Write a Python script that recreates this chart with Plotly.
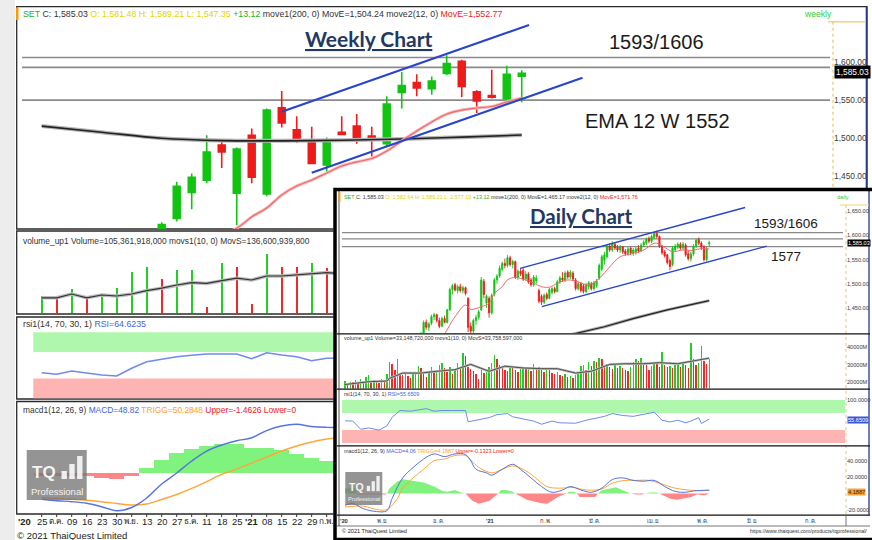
import plotly.graph_objects as go

W, H = 872, 540
def px(x): return x / W
def py(y): return 1 - y / H

SANS = "Liberation Sans, Arial, sans-serif"

# ======================= WEEKLY DATA =======================
wk_candle_idx = list(range(8, 33))
wk_open  = [1370,1395,1429,1445,1491,1428,1504,1427,1540,1511,1496,1465,1508,1516,1503,1493,1560,1573,1565,1585,1601,1561,1556,1552,1581.48]
wk_high  = [1390,1443,1454,1504,1496,1488,1513,1539,1562,1529,1515,1501,1529,1532,1515,1555,1587,1584,1581,1609,1603,1563,1590,1595,1589.21]
wk_low   = [1360,1391,1407,1441,1461,1386,1441,1424,1514,1494,1466,1456,1504,1493,1476,1490,1539,1555,1557,1583,1554,1533,1552,1548,1547.35]
wk_close = [1387,1437,1449,1482,1482,1486,1449,1537,1520,1499,1467,1497,1505,1501,1499,1545,1569,1566,1575,1598,1568,1549,1554,1584,1585.03]

wk_ema200_x = [0, 4, 8, 12, 18, 24, 28, 32]
wk_ema200_y = [1516, 1508, 1500, 1497, 1497, 1499, 1501.5, 1504.24]
wk_ema12_x = [9, 11, 13, 14, 15, 16, 17, 18, 19, 20, 21, 22, 23, 24, 25, 26, 27, 28, 29, 30, 31, 32]
wk_ema12_y = [1342, 1366, 1382, 1397, 1408.6, 1425.7, 1437.5, 1445.3, 1454.5, 1463.7, 1469, 1473.5,
              1483.4, 1496.5, 1509.6, 1521.4, 1531.8, 1537, 1539.7, 1541.7, 1547.6, 1552.77]
wk_levels = [1606, 1593, 1550]
wk_chan_upper_x = [16, 32.49]
wk_chan_upper_y = [1534.9, 1648.5]
wk_chan_lower_x = [18, 36.05]
wk_chan_lower_y = [1454.9, 1579.4]

wk_lower_idx = list(range(0, 21))
wk_volume = [42, 37, 59, 38, 47, 62, 102, 116, 84, 107, 108, 14, 124, 116, 22, 147, 116, 114, 124, 112, 120]
wk_vol_ma = [38, 38, 47.5, 38, 45, 42.5, 47.5, 56, 62, 70, 76, 74, 81, 87, 82.5, 92.5, 92.5, 95, 99, 101, 98]
wk_rsi = [38.8, 36.4, 41.4, 37.9, 35.3, 33.8, 45.5, 55.5, 59.1, 63, 65.2, 67.1, 67.1, 67.1, 60, 69.1, 65.6, 63, 57, 60.6, 61]
wk_macd = [-33.2, -35, -36.2, -38.2, -42.5, -47.5, -43.5, -31.6, -14.1, -0.4, 14.6, 27.1, 34.6, 40, 43.7, 52.7, 58.4, 60.5, 57.7, 56.7, 56.5]
wk_signal = [-31.2, -32.2, -33.2, -34.5, -36.2, -38.5, -40.4, -39.1, -33.5, -27.2, -19.7, -11, -2.2, 4.6, 12.1, 19.6, 27.1, 33.4, 38.4, 42.1, 45]
wk_hist = [-4.1, -4.1, -4.1, -4.1, -7.1, -8.4, -4.1, 5.4, 15.9, 24.1, 29.1, 33.4, 35.4, 35.4, 30.4, 30.4, 28.4, 23.4, 17.9, 14.6, 11.5]

wk_tick_pos = [-1.15] + list(range(0, 20))
wk_tick_text = ["<b>'20</b>", "25", "ต.ค.", "09", "16", "23", "30", "พ.ย.", "13", "20", "27", "ธ.ค.",
                "11", "18", "25", "<b>'21</b>", "08", "15", "22", "29", "ก.พ."]
wk_price_ticks = [1450, 1500, 1550, 1600]

# ======================= DAILY DATA =======================
dy_candle_idx = list(range(28, 140))
dy_open = [1380,1388,1395,1420,1410,1418,1432,1436,1424,1412,
           1428,1420,1446,1488,1498,1486,1494,1486,1492,1470,
           1412,1402,1424,1430,1446,1505,1460,1470,1440,1478,
           1508,1516,1530,1542,1538,1554,1540,1546,1514,1526,
           1528,1510,1520,1508,1498,1506,1486,1474,1462,1478,
           1470,1482,1490,1484,1504,1512,1508,1524,1514,1522,
           1508,1490,1500,1496,1484,1494,1500,1490,1496,1512,
           1530,1548,1556,1578,1570,1582,1576,1570,1576,1568,
           1562,1574,1564,1566,1574,1568,1580,1584,1594,1588,
           1596,1604,1598,1578,1566,1560,1548,1540,1570,1576,
           1582,1574,1580,1562,1552,1562,1578,1592,1584,1576,
           1550,1582.64]
dy_high = [1392,1400,1424,1426,1420,1436,1440,1438,1430,1432,
           1434,1448,1492,1500,1502,1498,1500,1496,1494,1472,
           1420,1428,1436,1446,1514,1510,1478,1474,1480,1512,
           1520,1538,1546,1552,1560,1558,1550,1548,1530,1532,
           1534,1526,1524,1512,1518,1518,1490,1478,1480,1482,
           1492,1494,1494,1508,1516,1524,1526,1528,1528,1526,
           1512,1504,1504,1500,1502,1506,1504,1506,1510,1542,
           1560,1566,1582,1584,1588,1586,1580,1580,1578,1572,
           1576,1576,1574,1576,1580,1584,1590,1596,1598,1602,
           1608,1610,1600,1580,1570,1562,1552,1578,1582,1586,
           1586,1586,1584,1568,1566,1582,1594,1596,1588,1580,
           1576,1589.21]
dy_low = [1375,1384,1392,1405,1402,1414,1425,1420,1408,1410,
          1418,1418,1444,1478,1484,1480,1482,1480,1476,1400,
          1396,1398,1415,1426,1444,1470,1450,1430,1436,1474,
          1500,1512,1526,1532,1534,1536,1532,1510,1508,1516,
          1506,1506,1500,1494,1494,1500,1460,1456,1458,1466,
          1468,1478,1480,1482,1500,1504,1504,1510,1510,1506,
          1486,1486,1482,1480,1480,1488,1486,1486,1492,1508,
          1526,1540,1552,1566,1566,1570,1566,1564,1562,1558,
          1558,1560,1558,1560,1564,1566,1576,1580,1584,1584,
          1592,1594,1574,1560,1554,1540,1528,1536,1566,1572,
          1570,1570,1556,1548,1546,1558,1574,1580,1570,1546,
          1546,1577.19]
dy_close = [1388,1396,1420,1410,1417,1432,1436,1424,1412,1428,
            1420,1446,1488,1496,1487,1494,1486,1492,1480,1410,
            1402,1424,1430,1442,1508,1478,1474,1440,1476,1508,
            1516,1532,1542,1538,1554,1540,1546,1514,1526,1520,
            1510,1520,1504,1498,1514,1512,1464,1462,1476,1470,
            1488,1490,1484,1504,1512,1508,1522,1514,1524,1510,
            1490,1500,1486,1484,1498,1502,1490,1502,1506,1538,
            1556,1560,1578,1570,1584,1574,1570,1576,1566,1562,
            1572,1564,1570,1572,1568,1580,1586,1592,1588,1598,
            1604,1598,1578,1564,1558,1544,1536,1574,1578,1582,
            1574,1582,1560,1552,1562,1578,1590,1584,1576,1550,
            1571.91,1585.03]

dy_ma200_x = [84, 99, 110, 123, 139]
dy_ma200_y = [1392, 1411, 1428, 1446, 1465.17]
dy_ema12_x = [36, 38, 42, 46, 48, 52, 55, 57, 60, 62, 65, 67, 71, 75, 78, 81, 85, 89, 93, 97, 101, 105,
              110, 114, 118, 120, 123, 125, 129, 132, 137, 139]
dy_ema12_y = [1380, 1396, 1432, 1456, 1447, 1452.6, 1459.6, 1480, 1494, 1508, 1513.5, 1511, 1504, 1494,
              1493, 1501, 1508, 1504, 1497.5, 1511, 1535, 1556, 1563, 1570, 1584, 1582, 1572, 1566.5,
              1570, 1569, 1573.5, 1571.76]
dy_levels = [1606, 1593, 1577]
dy_chan_upper_x = [66.8, 152.7]
dy_chan_upper_y = [1532, 1658]
dy_chan_lower_x = [75.1, 161]
dy_chan_lower_y = [1452.6, 1578]

dy_vol_idx = list(range(0, 140))
dy_volume = [21000, 19500, 20500, 20000, 21500, 20500, 22000, 21000, 23000, 24300, 19800, 21500, 20500, 19600, 22000, 21500, 25000,
             31800, 30200, 27000, 33100, 25000, 24000, 26000, 23500, 22500, 24500,
             25500, 29200, 28000, 24500, 23000, 25500, 28500, 26000, 27000, 30000,
             31200, 28000, 26000, 29000, 24500, 27500, 31000, 28000, 36500, 35000,
             29000, 27500, 26500, 24500, 22000, 27000, 25500, 26000, 28500, 31000,
             35700, 33100, 30000, 28500, 27000, 26500, 29000, 28000, 27000, 26000,
             28500, 29000, 27500, 28500, 26500, 30200, 27500, 28500, 27000, 26000,
             28000, 27500, 25500, 24500, 26000, 24000, 23500, 24500, 23000, 23500,
             22500, 24000, 25000, 29500, 30000, 27000, 31500, 29500, 32000, 31500,
             34000, 33000, 28500, 30500, 29000, 27500, 30000, 28000, 29500, 28000,
             27000, 26500, 28500, 31500, 33500, 32000, 34000, 31000, 30000, 27000,
             29500, 31000, 30500, 29000, 37000, 30000, 28500, 29500, 28000, 30000,
             31000, 29000, 30500, 30000, 28000, 42500, 33000, 30000, 31000, 40500,
             32000, 30500, 33149]
dy_vol_ma_x = [0, 9, 16, 17, 22, 29, 35, 42, 48, 55, 61, 68, 75, 81, 88, 94, 101, 107, 114, 120, 127, 133, 139]
dy_vol_ma_y = [18800, 20400, 20800, 22350, 25300, 25300, 26300, 27250, 30200, 26300, 29200, 28200, 27800,
               27800, 25300, 26300, 30200, 30600, 30600, 31200, 30600, 32200, 33759]

dy_rsi_x = [0, 3, 6, 9, 13, 16, 18, 21, 25, 29, 31, 34, 37, 41, 46, 47, 51, 55, 58, 62, 64, 68, 72, 75, 79,
            82, 88, 92, 96, 99, 102, 106, 110, 114, 118, 121, 124, 127, 130, 132, 135, 136, 139]
dy_rsi_y = [51.6, 51, 31.9, 35, 30, 40, 59.8, 75.6, 74, 78, 80, 74, 75.6, 75.6, 75.6, 49.3, 55, 59, 66, 68.5,
            61, 56, 51, 43.7, 51, 47, 46, 53, 59, 62, 68.5, 64, 62, 66, 71.6, 53, 49, 53, 47, 51, 59, 45.6, 55.65]

dy_macd_x = [0, 3, 7, 12, 16, 18, 22, 26, 30, 34, 38, 42, 46, 48, 50, 54, 56, 60, 64, 67, 71, 75, 79, 83, 86,
             90, 94, 98, 102, 106, 110, 114, 118, 122, 126, 130, 133, 139]
dy_macd_y = [-14.4, -12.2, -18.5, -22, -21, -6, 19, 31.7, 42, 48.3, 45, 48.3, 47.5, 39.9, 29.5, 25.2, 22.3,
             29.5, 35.7, 29.5, 19, 8.5, 1.5, 4.3, 8.5, 4.3, 1.5, 6.5, 17, 19, 16, 15, 16, 8.5, 2.6, 1.5, 3.2, 4.06]
dy_sig_x = [0, 7, 12, 16, 20, 22, 26, 30, 34, 38, 42, 46, 48, 51, 56, 60, 64, 68, 72, 77, 82, 87, 92, 98,
            102, 107, 111, 116, 120, 126, 131, 135, 139]
dy_sig_y = [-16.5, -15.4, -19.5, -19.5, -6, 6.5, 19, 29.5, 40, 42, 46.3, 46.3, 41, 32, 25.2, 29.5, 33.6, 29.5,
            21, 8.5, 6.5, 7.4, 4.3, 5.5, 12.6, 16, 16, 16, 12.6, 6.5, 4.3, 3.2, 4.19]
dy_hist_x = [0, 4, 4.5, 5, 15.5, 16, 17, 20, 22, 27.5, 30, 34, 37, 39, 42, 44.5, 46, 48.5, 51, 55, 57.6, 58.5,
             59.5, 61.5, 64, 65, 69.4, 74.6, 77.2, 81.2, 84.5, 85.5, 87.5, 88.5, 89.6, 95.5, 96.5, 98, 100.8,
             103.4, 107.3, 109, 111, 113.5, 114.5, 116.5, 119, 120, 124.2, 126.9, 132.1, 134.5, 136, 137.5, 139]
dy_hist_y = [6.3, 6.3, 0, -1.3, -1.3, 0, 6.3, 14.6, 17.5, 14.6, 13.4, 8.4, 3.3, 2.1, 4.2, 0.8, 0, -8.4, -12.5,
             -9.2, -2.1, 0, 4.2, 4.2, 2, 0, -7.5, -11.7, -12.5, -4.2, 0, 2.1, 2.1, 0, -4.2, -4.2, 0, 4, 6.3,
             7.5, 2.1, 0, -1.3, -1.3, 0, 1.3, 1.3, 0, -6.3, -7.5, -4.2, -1, -2.1, -2.1, -0.13]

dy_tick_pos = [-0.5, 14.5, 36, 55.6, 76.6, 95.5, 117.7, 136.7, 155.6, 177.9]
dy_tick_text = ["<b>'20</b>", "พ.ย.", "ธ.ค.", "<b>'21</b>", "ก.พ.", "มี.ค.", "เม.ย.", "พ.ค.", "มิ.ย.", "ก.ค."]
dy_price_ticks = [1450, 1500, 1550, 1600, 1650]
dy_vol_ticks = [20000, 30000, 40000]
dy_vol_ticktext = ["20000M", "30000M", "40000M"]

# ======================= STYLES =======================
GREEN = "#12C312"
RED = "#EE1B1B"
VGREEN = "#25CC25"
VRED = "#F02828"
HGREEN = "#80F27E"
HRED = "#FF8686"
MBLUE = "#5573E2"
MORANGE = "#FFA63A"
RSIBLUE = "#6D8CEB"
EMARED = "#F26868"
CHAN = "#2845CC"
LEVEL = "#8A8A8A"

fig = go.Figure()

def vol_colors(v):
    return [VGREEN if (i == 0 or v[i] >= v[i - 1]) else VRED for i in range(len(v))]

def line_tr(x, y, color, width, xa, ya, shape="linear"):
    fig.add_trace(go.Scatter(x=x, y=y, mode="lines", line=dict(color=color, width=width, shape=shape),
                             xaxis=xa, yaxis=ya, hoverinfo="skip"))

# ----- weekly price -----
line_tr(wk_ema200_x, wk_ema200_y, "#B5B5B5", 4, "x", "y", "spline")
line_tr(wk_ema200_x, wk_ema200_y, "#222222", 1.6, "x", "y", "spline")
line_tr(wk_ema12_x, wk_ema12_y, "#F9B8B8", 3, "x", "y", "spline")
line_tr(wk_ema12_x, wk_ema12_y, EMARED, 1.2, "x", "y", "spline")
fig.add_trace(go.Candlestick(x=wk_candle_idx, open=wk_open, high=wk_high, low=wk_low, close=wk_close,
                             increasing=dict(line=dict(color=GREEN, width=1.6), fillcolor=GREEN),
                             decreasing=dict(line=dict(color=RED, width=1.6), fillcolor=RED),
                             whiskerwidth=0, xaxis="x", yaxis="y", hoverinfo="skip"))
line_tr(wk_chan_upper_x, wk_chan_upper_y, CHAN, 2.2, "x", "y")
line_tr(wk_chan_lower_x, wk_chan_lower_y, CHAN, 2.2, "x", "y")

# ----- weekly volume -----
fig.add_trace(go.Bar(x=wk_lower_idx, y=wk_volume, width=0.14, marker=dict(color=vol_colors(wk_volume), line=dict(width=0)),
                     xaxis="x2", yaxis="y2", hoverinfo="skip"))
line_tr(wk_lower_idx, wk_vol_ma, "#BBBBBB", 3.5, "x2", "y2")
line_tr(wk_lower_idx, wk_vol_ma, "#333333", 1.2, "x2", "y2")
# ----- weekly rsi -----
line_tr(wk_lower_idx, wk_rsi, RSIBLUE, 1.6, "x3", "y3")
# ----- weekly macd -----
fig.add_trace(go.Bar(x=wk_lower_idx, y=wk_hist, width=1.0,
                     marker=dict(color=[HGREEN if v >= 0 else HRED for v in wk_hist], line=dict(width=0)),
                     xaxis="x4", yaxis="y4", hoverinfo="skip"))
line_tr(wk_lower_idx, wk_signal, MORANGE, 1.4, "x4", "y4", "spline")
line_tr(wk_lower_idx, wk_macd, MBLUE, 1.4, "x4", "y4", "spline")

# ----- daily price -----
line_tr(dy_ma200_x, dy_ma200_y, "#AAAAAA", 3, "x5", "y5")
line_tr(dy_ma200_x, dy_ma200_y, "#222222", 1.2, "x5", "y5")
line_tr(dy_ema12_x, dy_ema12_y, EMARED, 1, "x5", "y5", "spline")
fig.add_trace(go.Candlestick(x=dy_candle_idx, open=dy_open, high=dy_high, low=dy_low, close=dy_close,
                             increasing=dict(line=dict(color=GREEN, width=0.9), fillcolor=GREEN),
                             decreasing=dict(line=dict(color=RED, width=0.9), fillcolor=RED),
                             whiskerwidth=0, xaxis="x5", yaxis="y5", hoverinfo="skip"))
line_tr(dy_chan_upper_x, dy_chan_upper_y, CHAN, 1.4, "x5", "y5")
line_tr(dy_chan_lower_x, dy_chan_lower_y, CHAN, 1.4, "x5", "y5")
# ----- daily volume -----
fig.add_trace(go.Bar(x=dy_vol_idx, y=dy_volume, width=0.55, marker=dict(color=vol_colors(dy_volume), line=dict(width=0)),
                     xaxis="x6", yaxis="y6", hoverinfo="skip"))
line_tr(dy_vol_ma_x, dy_vol_ma_y, "#BBBBBB", 2.5, "x6", "y6")
line_tr(dy_vol_ma_x, dy_vol_ma_y, "#444444", 0.9, "x6", "y6")
# ----- daily rsi -----
line_tr(dy_rsi_x, dy_rsi_y, RSIBLUE, 1, "x7", "y7")
# ----- daily macd -----
fig.add_trace(go.Scatter(x=dy_hist_x, y=[max(v, 0) for v in dy_hist_y], mode="lines", fill="tozeroy",
                         fillcolor=HGREEN, line=dict(width=0, color=HGREEN), xaxis="x8", yaxis="y8", hoverinfo="skip"))
fig.add_trace(go.Scatter(x=dy_hist_x, y=[min(v, 0) for v in dy_hist_y], mode="lines", fill="tozeroy",
                         fillcolor=HRED, line=dict(width=0, color=HRED), xaxis="x8", yaxis="y8", hoverinfo="skip"))
line_tr(dy_sig_x, dy_sig_y, MORANGE, 1, "x8", "y8", "spline")
line_tr(dy_macd_x, dy_macd_y, MBLUE, 1, "x8", "y8", "spline")

# ======================= AXES =======================
def hidden_ax(dom, rng, anchor):
    return dict(domain=dom, range=rng, anchor=anchor, showticklabels=False, showgrid=False, zeroline=False,
                showline=False, ticks="", fixedrange=True)

def right_ax(dom, rng, anchor, vals, size, text=None, fmt=None):
    d = dict(domain=dom, range=rng, anchor=anchor, side="right", tickvals=vals, ticks="", showgrid=False,
             zeroline=False, showline=False, tickfont=dict(family=SANS, size=size, color="#3A3A3A"), fixedrange=True)
    if text is not None:
        d["ticktext"] = text
    if fmt:
        d["tickformat"] = fmt
    return d

wk_xr_full = [-1.667, 52.75]
wk_xr_low = [-1.667, 19.49]
wk_xd_full = [px(16.7), px(833)]
wk_xd_low = [px(16.7), px(334)]
dy_xr = [-2.29, 191.2]
dy_xd = [px(339), px(846)]

layout = dict(
    width=W, height=H, autosize=False,
    margin=dict(l=0, r=0, t=0, b=0, pad=0),
    paper_bgcolor="white", plot_bgcolor="rgba(0,0,0,0)",
    showlegend=False, boxgap=0.35, bargap=0,
    font=dict(family=SANS, color="#333333"),
)
layout["xaxis"] = dict(hidden_ax(wk_xd_full, wk_xr_full, "y"), rangeslider=dict(visible=False))
layout["yaxis"] = right_ax([py(229), py(7)], [1381.1, 1672.1], "x", wk_price_ticks, 8.4, fmt=",.2f")
layout["xaxis2"] = hidden_ax(wk_xd_low, wk_xr_low, "y2")
layout["yaxis2"] = hidden_ax([py(314), py(231)], [-2.5, 205], "x2")
layout["xaxis3"] = hidden_ax(wk_xd_low, wk_xr_low, "y3")
layout["yaxis3"] = hidden_ax([py(399), py(317)], [-1.06, 123.2], "x3")
layout["xaxis4"] = hidden_ax(wk_xd_low, wk_xr_low, "y4")
layout["yaxis4"] = hidden_ax([py(514), py(401.5)], [-51.6, 89.0], "x4")

layout["xaxis5"] = dict(hidden_ax(dy_xd, dy_xr, "y5"), rangeslider=dict(visible=False))
layout["yaxis5"] = right_ax([py(333), py(191)], [1398.1, 1692.1], "x5", dy_price_ticks, 5.6, fmt=",.2f")
layout["xaxis6"] = hidden_ax(dy_xd, dy_xr, "y6")
layout["yaxis6"] = right_ax([py(388.5), py(335)], [16571, 46857], "x6", dy_vol_ticks, 5.6, text=dy_vol_ticktext)
layout["xaxis7"] = hidden_ax(dy_xd, dy_xr, "y7")
layout["yaxis7"] = right_ax([py(445), py(390)], [-4.65, 123.3], "x7", [100], 5.6, text=["100.0000"])
layout["xaxis8"] = hidden_ax(dy_xd, dy_xr, "y8")
layout["yaxis8"] = right_ax([py(515), py(447)], [-26.2, 56.7], "x8", [-20, 20, 40], 5.6,
                            text=["-20.0000", "20.0000", "40.0000"])
fig.update_layout(**layout)

# ======================= SHAPES =======================
shapes = []
def rect(x0, y0, x1, y1, fill=None, line=None, lw=0, layer="below"):
    shapes.append(dict(type="rect", xref="paper", yref="paper", x0=px(x0), x1=px(x1), y0=py(y1), y1=py(y0),
                       fillcolor=fill if fill else "rgba(0,0,0,0)",
                       line=dict(color=line if line else "rgba(0,0,0,0)", width=lw), layer=layer))
def hline(x0, x1, y, color, lw, layer="below", dash="solid"):
    shapes.append(dict(type="line", xref="paper", yref="paper", x0=px(x0), x1=px(x1), y0=py(y), y1=py(y),
                       line=dict(color=color, width=lw, dash=dash), layer=layer))
def vline(x, y0, y1, color, lw, layer="below", dash="solid"):
    shapes.append(dict(type="line", xref="paper", yref="paper", x0=px(x), x1=px(x), y0=py(y0), y1=py(y1),
                       line=dict(color=color, width=lw, dash=dash), layer=layer))

rect(0, 0, 15, 540, fill="#EDEDED")
rect(16.7, 6.7, 867, 229, line="#2A2A2A", lw=1.3)
rect(16.7, 231, 867, 314, line="#2A2A2A", lw=1.3)
rect(16.7, 317, 867, 399, line="#2A2A2A", lw=1.3)
rect(16.7, 401.5, 867, 514, line="#2A2A2A", lw=1.3)
vline(17.2, 7.5, 20, "#FF9900", 2.5)
vline(866.5, 7, 229, "#243A8C", 1.6)
hline(828, 866, 21.7, "#F2D27A", 1.5)
vline(833, 21.7, 229, "#E9C86A", 1.2, dash="dot")
for lo, hi, col in [(70, 100, "#B0F7AE"), (0, 30, "#FFB4B4")]:
    shapes.append(dict(type="rect", xref="paper", yref="y3", x0=px(33.3), x1=px(833), y0=lo, y1=hi,
                       fillcolor=col, line=dict(width=0), layer="below"))
for lv in wk_levels:
    shapes.append(dict(type="line", xref="paper", yref="y", x0=px(22), x1=px(830), y0=lv, y1=lv,
                       line=dict(color=LEVEL, width=1.6), layer="below"))

# ---- daily inset ----
rect(333.5, 188, 873, 541, fill="white")
for lo, hi, col in [(70, 100, "#B0F7AE"), (0, 30, "#FFB4B4")]:
    shapes.append(dict(type="rect", xref="paper", yref="y7", x0=px(342), x1=px(845), y0=lo, y1=hi,
                       fillcolor=col, line=dict(width=0), layer="below"))
for lv in dy_levels:
    shapes.append(dict(type="line", xref="paper", yref="y5", x0=px(342), x1=px(843), y0=lv, y1=lv,
                       line=dict(color=LEVEL, width=1.2), layer="below"))
vline(846, 205, 515, "#E9C86A", 1, dash="dot")
vline(869, 191, 515, "#243A8C", 1.3)
hline(840, 869, 205, "#F2D27A", 1)

for yy in [333.8, 389.2, 445.8, 515.2]:
    hline(337, 870, yy, "#111111", 1.2, layer="above")
hline(337, 870, 526, "#777777", 1, layer="above")
vline(846, 515, 526, "#555555", 0.8, layer="above")
vline(339, 191, 526, "#222222", 0.8, layer="above")
vline(339.5, 192, 202, "#FF9900", 1.8, layer="above")
rect(335, 189.5, 874, 539.5, line="#000000", lw=3.5, layer="above")

annotations = []
def logo(x0, y0, w, h, s):
    rect(x0, y0, x0 + w, y0 + h, fill="rgba(118,118,118,0.78)", layer="above")
    for k, bh in enumerate([0.16, 0.30, 0.46]):
        bx0 = x0 + w * (0.58 + k * 0.13)
        rect(bx0, y0 + h * (0.58 - bh), bx0 + w * 0.09, y0 + h * 0.58, fill="rgba(255,255,255,0.85)", layer="above")
    annotations.append(dict(xref="paper", yref="paper", x=px(x0 + w * 0.05), y=py(y0 + h * 0.44), text="<b>TQ</b>",
                            showarrow=False, xanchor="left", yanchor="middle",
                            font=dict(family=SANS, size=17 * s, color="rgba(255,255,255,0.92)")))
    annotations.append(dict(xref="paper", yref="paper", x=px(x0 + w * 0.5), y=py(y0 + h * 0.83), text="Professional",
                            showarrow=False, xanchor="center", yanchor="middle",
                            font=dict(family=SANS, size=9.5 * s, color="rgba(255,255,255,0.92)")))
logo(26.7, 450, 60, 50, 1.0)
logo(345.3, 472, 37, 33, 0.62)

for t in wk_tick_pos[1:]:
    shapes.append(dict(type="line", xref="x4", yref="paper", x0=t, x1=t, y0=py(514), y1=py(517),
                       line=dict(color="#333333", width=1), layer="below"))
fig.update_layout(shapes=shapes)

# ======================= TEXT =======================
def ann(x, y, text, size, color="#333333", family=SANS, xanchor="left", bg=None, pad=0):
    d = dict(xref="paper", yref="paper", x=px(x), y=py(y), text=text, showarrow=False,
             xanchor=xanchor, yanchor="middle", font=dict(family=family, size=size, color=color))
    if bg:
        d["bgcolor"] = bg
        d["borderpad"] = pad
    annotations.append(d)

for t, s in zip(wk_tick_pos, wk_tick_text):
    thai = not any(ch.isdigit() for ch in s)
    annotations.append(dict(xref="x4", yref="paper", x=t, y=py(521.5), text=s, showarrow=False,
                            xanchor="center", yanchor="middle",
                            font=dict(family=SANS, size=8.2 if thai else 9.4, color="#222222")))
for t, s in zip(dy_tick_pos, dy_tick_text):
    annotations.append(dict(xref="x8", yref="paper", x=t, y=py(520.5), text=s, showarrow=False,
                            xanchor="center", yanchor="middle", font=dict(family=SANS, size=5.8, color="#333333")))

G_ = "#22B022"; Y_ = "#E3D400"; R_ = "#F02020"; B_ = "#4463E0"; O_ = "#FFA030"
def sp(c, t): return f"<span style='color:{c}'>{t}</span>"

ann(20.5, 14, sp(G_, "SET") + " C: 1,585.03 " + sp(Y_, "O: 1,581.48 H: 1,589.21 L: 1,547.35") + " " + sp(G_, "+13.12")
    + " move1(200, 0) MovE=1,504.24 move2(12, 0) " + sp(R_, "MovE=1,552.77"), 8.8)
ann(802, 14, "weekly", 8.6, color="#33CC33")
ann(20.5, 240.5, "volume_up1 Volume=105,361,918,000 movs1(10, 0) MovS=136,600,939,800", 8.4)
ann(20.5, 323.5, "rsi1(14, 70, 30, 1) " + sp(B_, "RSI=64.6235"), 8.8)
ann(20.5, 409.5, "macd1(12, 26, 9) " + sp(B_, "MACD=48.82") + " " + sp(O_, "TRIGG=50.2848") + " "
    + sp(R_, "Upper=-1.4626 Lower=0"), 8.4)
ann(834, 72.3, "1,585.03", 8.4, color="white", bg="#000000", pad=1)
ann(15, 535, "© 2021 ThaiQuest Limited", 9.5, color="#222222")

ann(369, 39, "<b><u>Weekly Chart</u></b>", 21, color="#1F3864", family="Lato, Open Sans, sans-serif", xanchor="center")
ann(656, 42, "1593/1606", 20, color="#1A1A1A", xanchor="center")
ann(657, 121, "EMA 12 W 1552", 20, color="#1A1A1A", xanchor="center")

ann(341.5, 197, sp(G_, "SET") + " C: 1,585.03 " + sp(Y_, "O: 1,582.64 H: 1,589.21 L: 1,577.19") + " " + sp(G_, "+13.12")
    + " move1(200, 0) MovE=1,465.17 move2(12, 0) " + sp(R_, "MovE=1,571.76"), 5.4)
ann(835, 197.5, "daily", 5.6, color="#33CC33")
ann(581, 216, "<b><u>Daily Chart</u></b>", 20.5, color="#1F3864", family="Lato, Open Sans, sans-serif", xanchor="center")
ann(786, 224, "1593/1606", 13.5, color="#1A1A1A", xanchor="center")
ann(786, 257, "1577", 13.5, color="#1A1A1A", xanchor="center")
ann(846.5, 242.5, "1,585.03", 5.6, color="white", bg="#000000", pad=0)
ann(341.5, 337.5, "volume_up1 Volume=33,148,720,000 movs1(10, 0) MovS=33,758,597,000", 5.4)
ann(341.5, 393.5, "rsi1(14, 70, 30, 1) " + sp(B_, "RSI=55.6509"), 5.4)
ann(846.5, 419.5, "55.6509", 5.6, color="white", bg="#3A55D8", pad=0)
ann(341.5, 450.5, "macd1(12, 26, 9) " + sp(B_, "MACD=4.06") + " " + sp(O_, "TRIGG=4.1887") + " "
    + sp(R_, "Upper=-0.1323 Lower=0"), 5.4)
ann(846.5, 491.8, "4.1887", 5.6, color="#222222", bg="#FFA030", pad=0)
ann(339.5, 531, "© 2021 ThaiQuest Limited", 5.6, color="#222222")
ann(869, 531, "https://www.thaiquest.com/products/tqprofessional/", 5.2, color="#333333", xanchor="right")

fig.update_layout(annotations=annotations)
fig.write_html("out.html", config={"displayModeBar": False, "staticPlot": True},
               post_script="document.body.style.margin='0';document.body.style.overflow='hidden';")
